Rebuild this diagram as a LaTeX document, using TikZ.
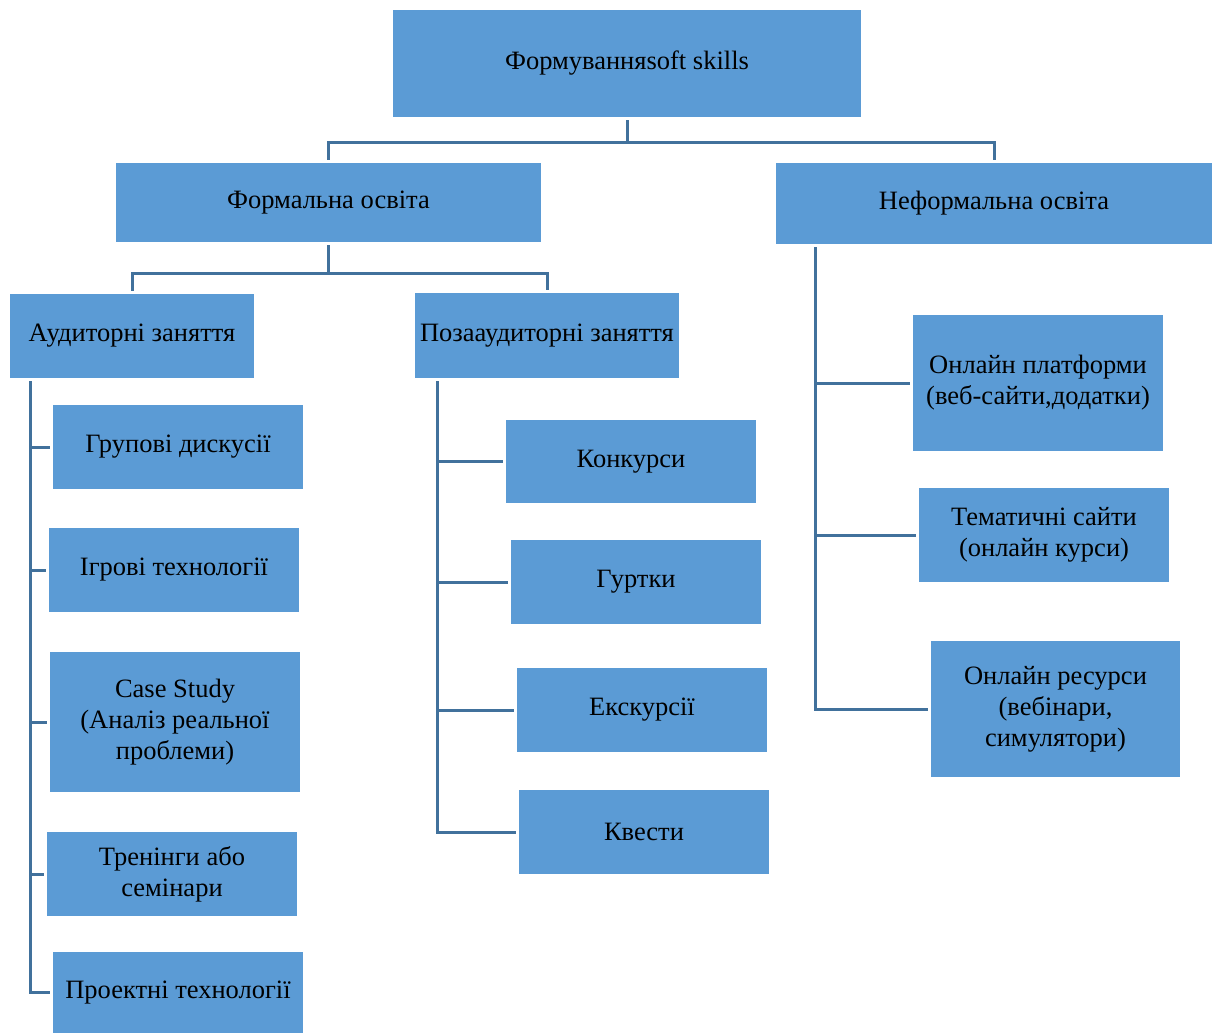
\documentclass[tikz,border=0pt]{standalone}
\usepackage{fontspec}
\setmainfont{Liberation Serif}
\definecolor{boxblue}{HTML}{5B9BD5}
\definecolor{lineblue}{HTML}{41719C}
\newcommand\DrawBranch[3]{
	\foreach \c in {#3}
	{
		\draw [link] ([xshift=#2]#1.south west) |- (\c.west);
	}
}

\begin{document}
\begin{tikzpicture}[x=1pt, y=-1pt,
	every node/.style={fill=boxblue, text=black, inner sep=2pt, outer sep=3pt, align=center, font=\fontsize{26.5}{31}\selectfont},
	box/.style={minimum width=250pt, minimum height=84pt},
	link/.style={draw=lineblue, line width=3pt}]
	\useasboundingbox (0,0) rectangle (1214,1033);
	\node [minimum width=468pt, minimum height=107pt] (top) at (627,63.5) {Формуванняsoft skills};
	\node [minimum width=425pt, minimum height=79pt] (formal) at (328.5,202.5) {Формальна освіта};
	\node [minimum width=436pt, minimum height=81pt] (informal) at (994,203.5) {Неформальна освіта};
	\node [minimum width=244pt, minimum height=84pt] (aud) at (132,336) {Аудиторні заняття};
	\node [minimum width=264pt, minimum height=85pt] (poza) at (547,335.5) {Позааудиторні заняття};
	% left column
	\node [box] (grp) at (178,447) {Групові дискусії};
	\node [box] (igr) at (174,570) {Ігрові технології};
	\node [box, minimum height=140pt] (case) at (175,722) {Case Study\\(Аналіз реальної\\проблеми)};
	\node [box] (trn) at (172,874) {Тренінги або\\семінари};
	\node [box, minimum height=81pt] (prj) at (178,992.5) {Проектні технології};
	% middle column
	\node [box, minimum height=83pt] (konk) at (631,461.5) {Конкурси};
	\node [box] (gurt) at (636,582) {Гуртки};
	\node [box] (eksk) at (642,710) {Екскурсії};
	\node [box] (kvest) at (644,832) {Квести};
	% right column
	\node [box, minimum height=136pt] (onpl) at (1038,383) {Онлайн платформи\\(веб-сайти,додатки)};
	\node [box, minimum height=94pt] (tem) at (1044,535) {Тематичні сайти\\(онлайн курси)};
	\node [box, minimum width=249pt, minimum height=136pt] (onres) at (1055.5,709) {Онлайн ресурси\\(вебінари,\\симулятори)};
	\draw [link] (top.south) -- ++(0,22.5) -| (formal.north);
	\draw [link] (top.south) -- ++(0,22.5) -| (informal.north);
	\draw [link] (formal.south) -- ++(0,28) -| (aud.north);
	\draw [link] (formal.south) -- ++(0,28) -| (poza.north);
	\DrawBranch{aud}{23pt}{grp,igr,case,trn,prj}
	\DrawBranch{poza}{25pt}{konk,gurt,eksk,kvest}
	\DrawBranch{informal}{42pt}{onpl,tem,onres}
\end{tikzpicture}
\end{document}
